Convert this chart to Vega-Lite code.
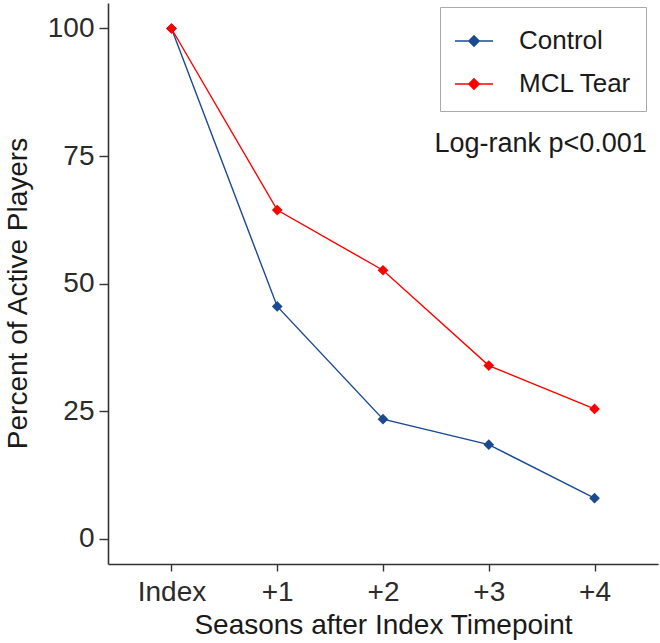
{
  "$schema": "https://vega.github.io/schema/vega-lite/v6.json",
  "width": 550,
  "height": 561,
  "autosize": {"type": "none"},
  "padding": {"left": 108, "top": 3, "right": 2, "bottom": 79},
  "background": "white",
  "config": {
    "view": {"stroke": null},
    "font": "Liberation Sans"
  },
  "datasets": {
    "series": [
      {"season": 0, "group": "Control", "pct": 100},
      {"season": 1, "group": "Control", "pct": 45.5},
      {"season": 2, "group": "Control", "pct": 23.4},
      {"season": 3, "group": "Control", "pct": 18.4},
      {"season": 4, "group": "Control", "pct": 7.9},
      {"season": 0, "group": "MCL Tear", "pct": 100},
      {"season": 1, "group": "MCL Tear", "pct": 64.4},
      {"season": 2, "group": "MCL Tear", "pct": 52.6},
      {"season": 3, "group": "MCL Tear", "pct": 33.9},
      {"season": 4, "group": "MCL Tear", "pct": 25.4}
    ],
    "note": [
      {"season": 3.49, "pct": 75.7, "label": "Log-rank p<0.001"}
    ]
  },
  "layer": [
    {
      "data": {"name": "series"},
      "mark": {"type": "line", "strokeWidth": 1.4, "point": {"shape": "diamond", "filled": true, "size": 115, "opacity": 1}},
      "encoding": {
        "x": {
          "field": "season", "type": "quantitative",
          "scale": {"domain": [-0.6, 4.6], "nice": false, "zero": false},
          "axis": {
            "title": "Seasons after Index Timepoint",
            "values": [0, 1, 2, 3, 4],
            "labelExpr": "datum.value == 0 ? 'Index' : '+' + datum.value",
            "grid": false,
            "domainColor": "#333333", "domainWidth": 1.6,
            "tickColor": "#333333", "tickWidth": 1.4, "tickSize": 7,
            "labelFontSize": 28, "labelColor": "#2b2b2b", "labelPadding": 7,
            "labelFont": "Liberation Sans",
            "titleFontSize": 28, "titleFontWeight": "normal", "titleColor": "#1a1a1a",
            "titleFont": "Liberation Sans",
            "titleBaseline": "alphabetic", "titleY": 69
          }
        },
        "y": {
          "field": "pct", "type": "quantitative",
          "scale": {"domain": [-5, 105], "nice": false, "zero": false},
          "axis": {
            "title": "Percent of Active Players",
            "values": [0, 25, 50, 75, 100],
            "grid": false,
            "domainColor": "#333333", "domainWidth": 1.6,
            "tickColor": "#333333", "tickWidth": 1.4, "tickSize": 9,
            "labelFontSize": 28, "labelColor": "#2b2b2b", "labelPadding": 5,
            "labelFont": "Liberation Sans",
            "titleFontSize": 28, "titleFontWeight": "normal", "titleColor": "#1a1a1a",
            "titleFont": "Liberation Sans",
            "titleBaseline": "alphabetic", "titleX": -82, "titleY": 290, "titleAngle": 270
          }
        },
        "color": {
          "field": "group", "type": "nominal",
          "scale": {"domain": ["Control", "MCL Tear"], "range": ["#1b4a93", "#ff0000"]},
          "legend": {
            "title": null,
            "orient": "none",
            "legendX": 332,
            "legendY": 4,
            "padding": 14,
            "rowPadding": 10,
            "strokeColor": "#aaaaaa",
            "fillColor": "white",
            "labelFontSize": 26,
            "labelFont": "Liberation Sans",
            "labelColor": "#1a1a1a",
            "labelOffset": 25,
            "symbolType": "M-1,0L1,0M-0.27,0L0,-0.27L0.27,0L0,0.27Z",
            "symbolSize": 1444,
            "symbolStrokeWidth": 1.5,
            "encode": {
              "symbols": {"update": {"fill": {"scale": "color", "field": "value"}, "fillOpacity": {"value": 1}}}
            }
          }
        }
      }
    },
    {
      "data": {"name": "note"},
      "mark": {"type": "text", "fontSize": 27, "font": "Liberation Sans", "color": "#1a1a1a", "align": "center", "baseline": "alphabetic"},
      "encoding": {
        "x": {"field": "season", "type": "quantitative"},
        "y": {"field": "pct", "type": "quantitative"},
        "text": {"field": "label"}
      }
    }
  ]
}
